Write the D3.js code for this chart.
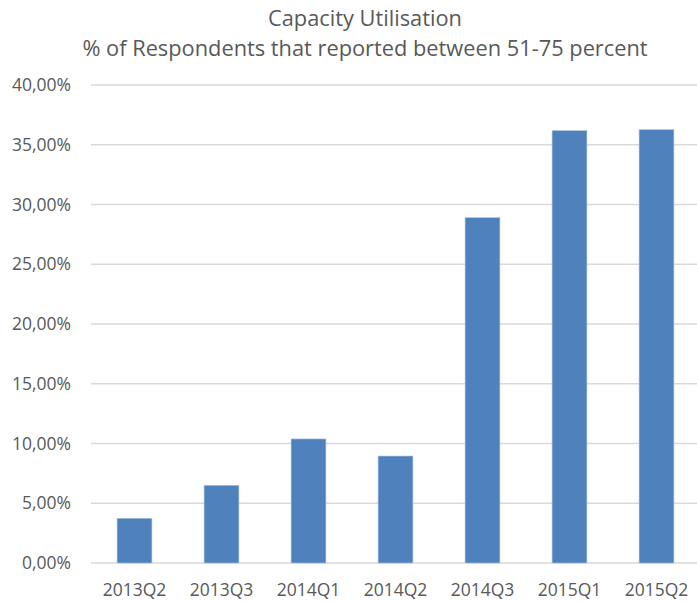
<!DOCTYPE html>
<html><head><meta charset="utf-8">
<script src="https://cdn.jsdelivr.net/npm/d3@7"></script>
<style>body{margin:0;background:#fff}svg{display:block}</style>
</head><body>
<script>
const categories = ["2013Q2","2013Q3","2014Q1","2014Q2","2014Q3","2015Q1","2015Q2"];
const values = [3.74, 6.50, 10.38, 8.95, 28.90, 36.18, 36.26];
const yTicks = [0,5,10,15,20,25,30,35,40];
const titleLines = ["Capacity Utilisation","% of Respondents that reported between 51-75 percent"];

const W = 697, H = 602;
const svg = d3.select("body").append("svg").attr("width", W).attr("height", H);
const font = "'Open Sans', sans-serif";
const txt = "#595959";

const x = d3.scaleBand().domain(categories).range([91, 700]).paddingInner(0.6).paddingOuter(0.3);
const y = d3.scaleLinear().domain([0, 40]).range([563, 85]);

// gridlines
svg.append("g").selectAll("line").data(yTicks).join("line")
  .attr("x1", 91).attr("x2", 700)
  .attr("y1", d => y(d)).attr("y2", d => y(d))
  .attr("stroke", "#d9d9d9").attr("stroke-width", 1.3);

// y axis labels
const yAxis = d3.axisLeft(y).tickValues(yTicks).tickSize(0).tickPadding(0)
  .tickFormat(d => d3.format(".2f")(d).replace(".", ",") + "%");
const ga = svg.append("g").attr("transform", "translate(71,0)").call(yAxis);
ga.select(".domain").remove();
ga.selectAll("text").attr("font-family", font).attr("font-size", 17.5).attr("fill", txt);

// bars
svg.append("g").selectAll("rect").data(values).join("rect")
  .attr("x", (d, i) => x(categories[i]))
  .attr("width", x.bandwidth())
  .attr("y", d => y(d))
  .attr("height", d => y(0) - y(d))
  .attr("fill", "#4f81bd")
  .attr("stroke", "#a9c0de").attr("stroke-width", 0.6);

// x axis labels
const xAxis = d3.axisBottom(x).tickSize(0).tickPadding(0);
const gx = svg.append("g").attr("transform", "translate(0,596)").call(xAxis);
gx.select(".domain").remove();
gx.selectAll("text").attr("font-family", font).attr("font-size", 17.5).attr("fill", txt).attr("dy", "0");

// title
svg.append("g").selectAll("text").data(titleLines).join("text")
  .attr("x", 365).attr("y", (d, i) => 26 + i * 30)
  .attr("text-anchor", "middle")
  .attr("font-family", font).attr("font-size", 21.8).attr("fill", txt)
  .text(d => d);
</script>
</body></html>
